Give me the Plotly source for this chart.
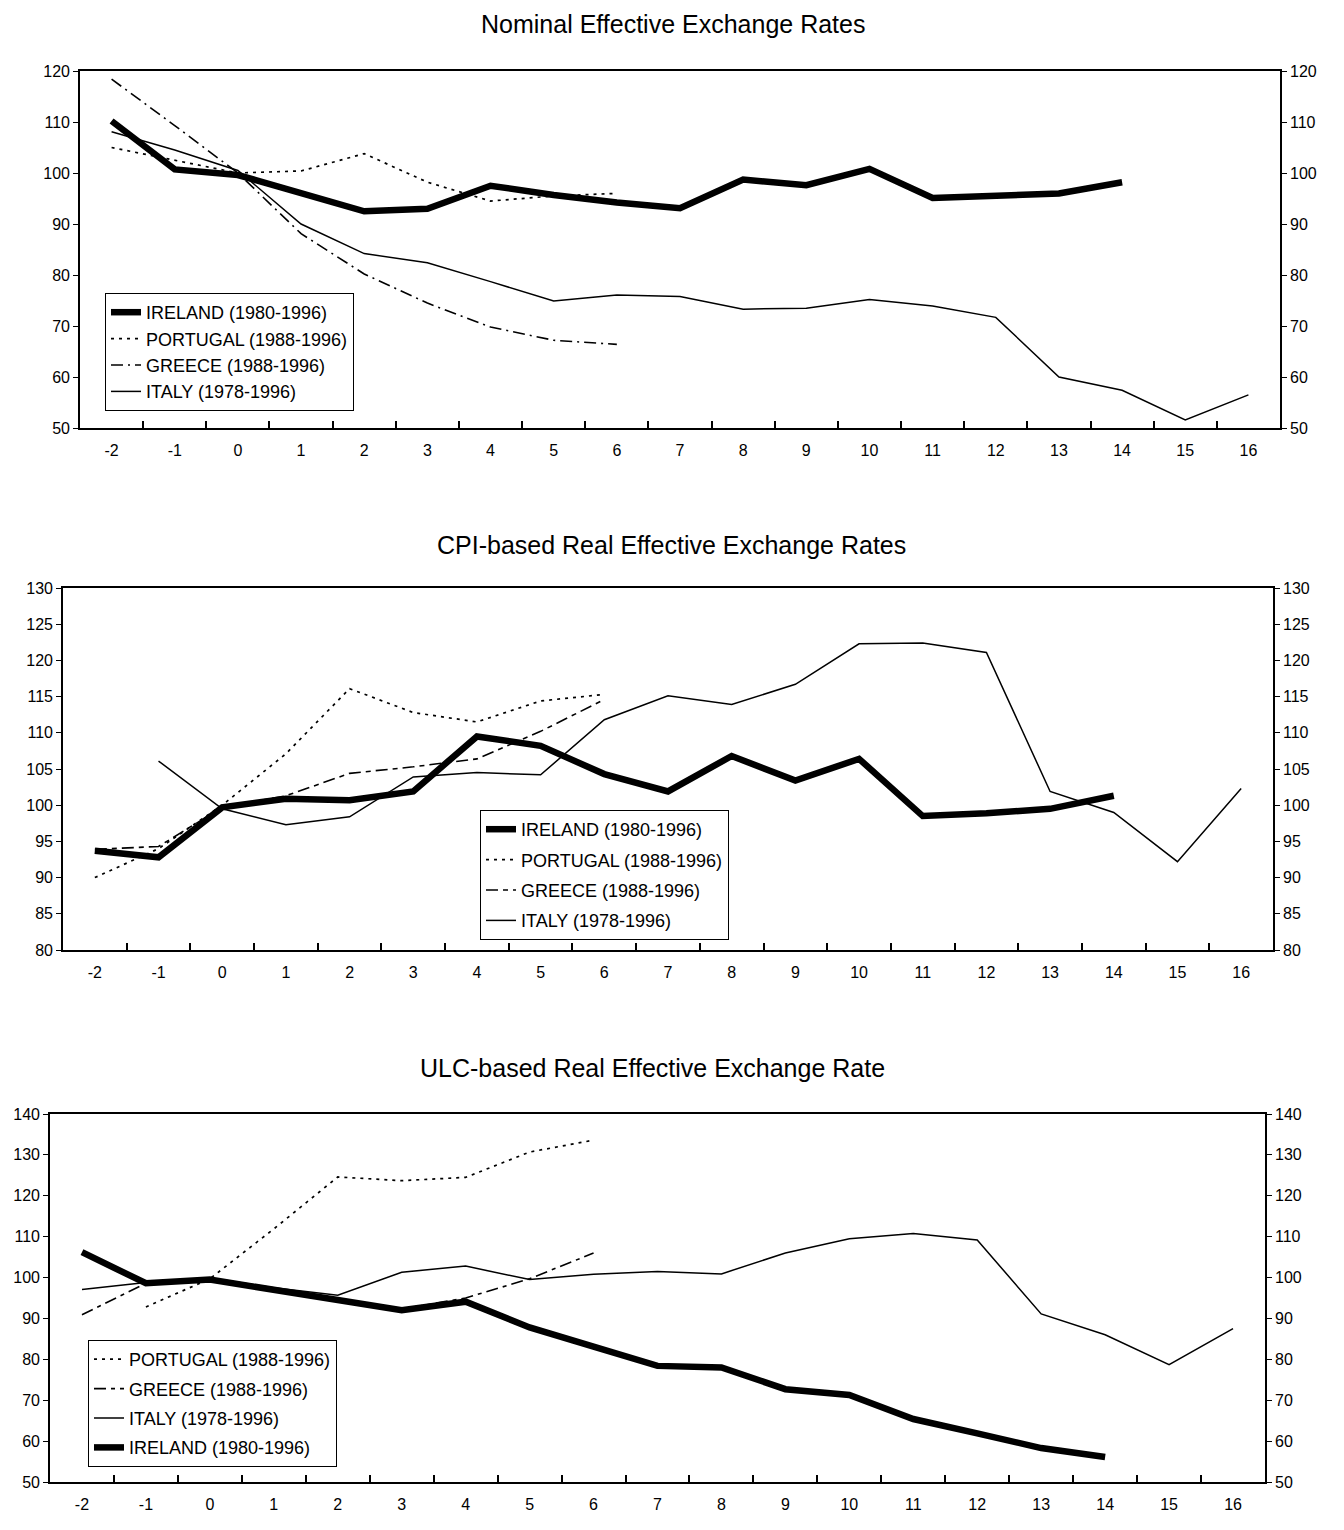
import plotly.graph_objects as go

# ---------------- data ----------------
periods = list(range(-2, 17))
tick_labels = [str(p) for p in periods]

# Nominal effective exchange rates
nom_ireland = [110.2, 100.7, 99.6, 96.2, 92.5, 93.0, 97.5, 95.7, 94.2, 93.1, 98.7, 97.6, 100.8, 95.1, 95.4, 96.0, 98.2, None, None]
nom_portugal = [105.0, 102.5, 100.0, 100.4, 103.8, 98.2, 94.5, 95.5, 96.0] + [None] * 10
nom_greece = [118.4, 109.3, 100.0, 88.1, 80.2, 74.5, 69.8, 67.2, 66.4] + [None] * 10
nom_italy = [108.1, 104.5, 100.5, 90.0, 84.2, 82.4, 78.7, 74.9, 76.1, 75.8, 73.3, 73.5, 75.2, 73.9, 71.7, 60.0, 57.4, 51.6, 56.5]

# CPI-based real effective exchange rates
cpi_ireland = [93.7, 92.8, 99.7, 100.9, 100.7, 101.9, 109.5, 108.2, 104.3, 101.9, 106.8, 103.4, 106.4, 98.5, 98.9, 99.5, 101.3, None, None]
cpi_portugal = [90.0, 94.0, 100.0, 107.1, 116.1, 112.8, 111.5, 114.4, 115.3] + [None] * 10
cpi_greece = [93.9, 94.3, 99.7, 101.3, 104.4, 105.3, 106.4, 110.2, 114.6] + [None] * 10
cpi_italy = [None, 106.1, 99.5, 97.3, 98.4, 103.9, 104.5, 104.2, 111.8, 115.1, 113.9, 116.7, 122.3, 122.4, 121.1, 101.9, 99.0, 92.2, 102.3]

# ULC-based real effective exchange rate
ulc_portugal = [None, 92.8, 99.7, 111.9, 124.6, 123.7, 124.5, 130.7, 133.6] + [None] * 10
ulc_greece = [90.9, 98.6, 99.5, 97.2, 94.6, 92.3, 95.0, 99.7, 106.0] + [None] * 10
ulc_italy = [97.1, 98.8, 99.9, 97.5, 95.7, 101.3, 102.8, 99.5, 100.8, 101.5, 100.9, 106.0, 109.5, 110.8, 109.2, 91.1, 86.0, 78.7, 87.5]
ulc_ireland = [106.2, 98.6, 99.5, 97.1, 94.4, 92.0, 94.1, 87.8, 83.1, 78.4, 78.0, 72.7, 71.3, 65.4, 61.9, 58.3, 56.1, None, None]

names = {
    "ireland": "IRELAND (1980-1996)",
    "portugal": "PORTUGAL (1988-1996)",
    "greece": "GREECE (1988-1996)",
    "italy": "ITALY (1978-1996)",
}

# ---------------- layout helpers ----------------
PAGE_MARGIN = 8           # default body margin of the html page
W, H = 1344 - 2 * PAGE_MARGIN, 1530 - 2 * PAGE_MARGIN
FONT = "Liberation Sans, Arial, sans-serif"


def fx(x):
    return (x - PAGE_MARGIN) / W


def fy(y):
    return 1 - (y - PAGE_MARGIN) / H


panels = [
    dict(title="Nominal Effective Exchange Rates", tx=673, ty=24,
         box=(80, 1280, 71, 428), yr=(50, 120), dt=10,
         leg=(105, 293), gap=0,
         series=[("ireland", nom_ireland, 1), ("portugal", nom_portugal, 2),
                 ("greece", nom_greece, 3), ("italy", nom_italy, 4)],
         gdash="12px,5px,2px,5px"),
    dict(title="CPI-based Real Effective Exchange Rates", tx=671, ty=545,
         box=(63, 1273, 588, 950), yr=(80, 130), dt=5,
         leg=(480, 810), gap=4,
         series=[("ireland", cpi_ireland, 1), ("portugal", cpi_portugal, 2),
                 ("greece", cpi_greece, 3), ("italy", cpi_italy, 4)],
         gdash="12px,5px,5px,5px"),
    dict(title="ULC-based Real Effective Exchange Rate", tx=652, ty=1068,
         box=(50, 1265, 1114, 1482), yr=(50, 140), dt=10,
         leg=(88, 1340), gap=3,
         series=[("portugal", ulc_portugal, 1), ("greece", ulc_greece, 2),
                 ("italy", ulc_italy, 3), ("ireland", ulc_ireland, 4)],
         gdash="12px,5px,4px,5px"),
]

styles = {
    "ireland": dict(color="black", width=6.5, dash="solid"),
    "portugal": dict(color="black", width=1.7, dash="3px,5px"),
    "italy": dict(color="black", width=1.5, dash="solid"),
}

fig = go.Figure()
layout = dict(
    width=W, height=H,
    margin=dict(l=0, r=0, t=0, b=0),
    paper_bgcolor="white", plot_bgcolor="white",
    font=dict(family=FONT, color="black", size=16),
    showlegend=True,
    annotations=[],
)

draw_order = ["ireland", "portugal", "greece", "italy"]

for i, p in enumerate(panels):
    n = i + 1
    xname = "x" if n == 1 else f"x{n}"
    yl = 2 * n - 1
    yr_ = 2 * n
    ylname = "y" if yl == 1 else f"y{yl}"
    yrname = f"y{yr_}"
    legname = "legend" if n == 1 else f"legend{n}"
    x0, x1, y0, y1 = p["box"]

    data = {k: (v, rank) for k, v, rank in p["series"]}
    for key in draw_order:
        vals, rank = data[key]
        st = dict(styles.get(key, {}))
        if key == "greece":
            st = dict(color="black", width=1.6, dash=p["gdash"])
        fig.add_trace(go.Scatter(
            x=periods, y=vals, mode="lines", name=names[key],
            line=st, xaxis=xname,
            yaxis=yrname if key == "italy" else ylname,
            legend=legname, legendrank=rank,
            legendgroup=f"{key}{n}",
            hoverinfo="skip",
        ))

    xax = dict(
        domain=[fx(x0), fx(x1)], anchor=ylname,
        range=[-2.5, 16.5], tickmode="array", tickvals=periods, ticktext=tick_labels,
        ticks="outside", ticklen=7, tickcolor="rgba(0,0,0,0)",
        showline=True, linecolor="black", linewidth=1.6, mirror=True,
        showgrid=False, zeroline=False,
        tickfont=dict(size=16, family=FONT),
        minor=dict(tickmode="array", tickvals=[k + 0.5 for k in range(-2, 16)],
                   ticks="inside", ticklen=7, tickcolor="black", tickwidth=1.5,
                   showgrid=False),
        fixedrange=True, automargin=False,
    )
    ylax = dict(
        domain=[fy(y1), fy(y0)], anchor=xname,
        range=list(p["yr"]), dtick=p["dt"], tick0=p["yr"][0],
        ticks="outside", ticklen=5, tickcolor="black", tickwidth=1.2,
        showline=True, linecolor="black", linewidth=1.6,
        showgrid=False, zeroline=False,
        tickfont=dict(size=16, family=FONT),
        automargin=False,
    )
    yrax = dict(
        overlaying=ylname, side="right", anchor=xname,
        range=list(p["yr"]), dtick=p["dt"], tick0=p["yr"][0],
        ticks="outside", ticklen=5, tickcolor="black", tickwidth=1.2,
        showline=True, linecolor="black", linewidth=1.6,
        showgrid=False, zeroline=False,
        tickfont=dict(size=16, family=FONT),
        automargin=False,
    )
    layout["xaxis" if n == 1 else f"xaxis{n}"] = xax
    layout["yaxis" if yl == 1 else f"yaxis{yl}"] = ylax
    layout[f"yaxis{yr_}"] = yrax

    lx, ly = p["leg"]
    layout[legname] = dict(
        x=fx(lx), y=fy(ly), xanchor="left", yanchor="top",
        xref="paper", yref="paper",
        bgcolor="white", bordercolor="black", borderwidth=1,
        font=dict(size=18, family=FONT, color="black"),
        traceorder="grouped", tracegroupgap=p["gap"],
        itemclick=False, itemdoubleclick=False,
    )

    layout["annotations"].append(dict(
        text=p["title"], x=fx(p["tx"]), y=fy(p["ty"]),
        xref="paper", yref="paper", xanchor="center", yanchor="middle",
        showarrow=False, font=dict(size=25, family=FONT, color="black"),
    ))

fig.update_layout(**layout)
fig.write_html("out.html")
